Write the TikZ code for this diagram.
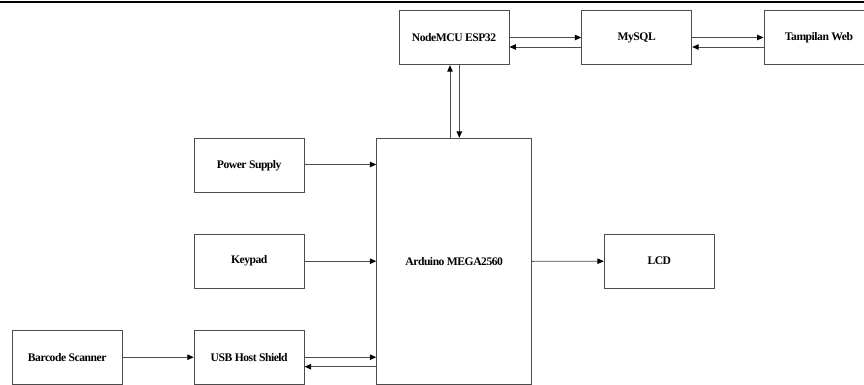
\documentclass[tikz,border=0pt]{standalone}
\usepackage{fontspec}
\setmainfont{Liberation Serif}[LetterSpace=-4]
\usetikzlibrary{arrows.meta}
\tikzset{
  blk/.style={draw=black!70, line width=0.9pt, rectangle, minimum width=110pt, minimum height=54.5pt, inner sep=0pt, font=\fontsize{11.6}{13}\selectfont\bfseries, text=black},
  arr/.style={draw=black!70, line width=0.9pt, -{Triangle[length=6.5pt,width=5.5pt,color=black]}}
}
\begin{document}
\begin{tikzpicture}[x=1pt,y=-1pt]
\useasboundingbox (0,0) rectangle (864,385);
\draw[line width=2.6pt, black] (0,2) -- (864,2);
\node[blk] (nodemcu) at (454,37.5) {NodeMCU ESP32};
\node[blk] (mysql) at (636.7,37.5) {MySQL};
\node[blk] (web) at (819,37.5) {Tampilan Web};
\node[blk] (power) at (249.2,165.5) {Power Supply};
\node[blk] (keypad) at (249.2,261.2) {Keypad};
\node[blk] (usb) at (249.2,357.2) {USB Host Shield};
\node[blk] (barcode) at (67.2,357.2) {Barcode Scanner};
\node[blk, minimum width=155pt, minimum height=246pt] (arduino) at (454.2,261.3) {Arduino MEGA2560};
\node[blk] (lcd) at (659.3,261.2) {LCD};
\draw[arr] (nodemcu.east) -- (mysql.west);
\draw[arr] ([yshift=-9.5pt]mysql.west) -- ([yshift=-9.5pt]nodemcu.east);
\draw[arr] (mysql.east) -- (web.west);
\draw[arr] ([yshift=-9.5pt]web.west) -- ([yshift=-9.5pt]mysql.east);
\draw[arr] ([xshift=-4pt]nodemcu.south |- arduino.north) -- ([xshift=-4pt]nodemcu.south);
\draw[arr] ([xshift=5.3pt]nodemcu.south) -- ([xshift=5.3pt]nodemcu.south |- arduino.north);
\draw[arr] ([yshift=1pt]power.east) -- ([yshift=1pt]power.east -| arduino.west);
\draw[arr] (keypad.east) -- (keypad.east -| arduino.west);
\draw[arr] (usb.east) -- (usb.east -| arduino.west);
\draw[arr] ([yshift=-9.5pt]usb.east -| arduino.west) -- ([yshift=-9.5pt]usb.east);
\draw[arr] (barcode.east) -- (usb.west);
\draw[arr] (arduino.east) -- (lcd.west);
\end{tikzpicture}
\end{document}
